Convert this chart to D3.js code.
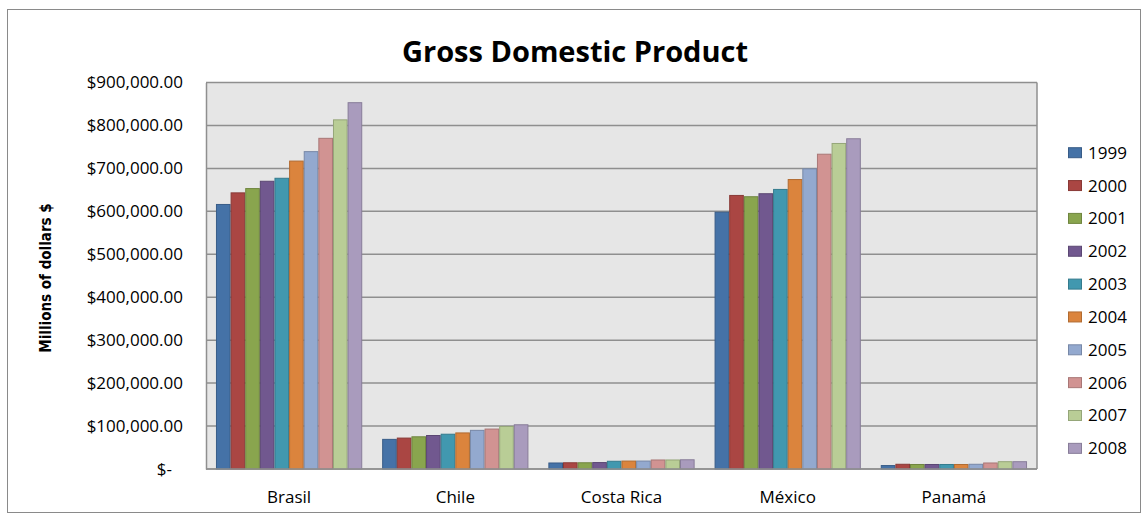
<!DOCTYPE html>
<html>
<head>
<meta charset="utf-8">
<title>Gross Domestic Product</title>
<script src="https://cdn.jsdelivr.net/npm/d3@7"></script>
<style>
  body { margin: 0; background: #ffffff; }
  svg text { font-family: "Open Sans", sans-serif; fill: #000; }
</style>
</head>
<body>
<div id="chart"></div>
<script>
// GDP by country, millions of dollars
var countries = ["Brasil", "Chile", "Costa Rica", "México", "Panamá"];
var years = ["1999", "2000", "2001", "2002", "2003", "2004", "2005", "2006", "2007", "2008"];

var brasil = [616000, 643000, 653000, 670000, 677000, 717000, 739000, 770000, 813000, 853000];
var chile = [69000, 72000, 75000, 78000, 81000, 84000, 90000, 93000, 99000, 103000];
var costaRica = [14000, 14500, 14500, 15000, 18000, 18500, 18500, 21000, 21000, 21500];
var mexico = [598000, 637000, 634000, 641000, 651000, 674000, 699000, 733000, 758000, 769000];
var panama = [8000, 11000, 10500, 10500, 10500, 10500, 11000, 14000, 17000, 17000];

var yTicks = [0, 100000, 200000, 300000, 400000, 500000, 600000, 700000, 800000, 900000];

var colors = ["#4572a7", "#aa4643", "#89a54e", "#71588f", "#4198af",
              "#db843d", "#93a9cf", "#d19392", "#b9cd96", "#a99bbd"];

var seriesByCountry = [brasil, chile, costaRica, mexico, panama];

var width = 1148;
var height = 522;
var plot = { left: 206, right: 1037, top: 82.5, bottom: 469 };

var svg = d3
  .select("#chart")
  .append("svg")
  .attr("width", width)
  .attr("height", height);

// outer chart frame
svg
  .append("rect")
  .attr("x", 7.5)
  .attr("y", 9.5)
  .attr("width", 1133)
  .attr("height", 503)
  .attr("fill", "#fff")
  .attr("stroke", "#8a8a8a")
  .attr("stroke-width", 1);

var x0 = d3
  .scaleBand()
  .domain(countries)
  .range([plot.left, plot.right])
  .paddingInner(0.12)
  .paddingOuter(0.06);

var x1 = d3
  .scaleBand()
  .domain(years)
  .range([0, x0.bandwidth()]);

var y = d3
  .scaleLinear()
  .domain([0, 900000])
  .range([plot.bottom, plot.top]);

var color = d3.scaleOrdinal().domain(years).range(colors);

// plot background
svg
  .append("rect")
  .attr("x", plot.left)
  .attr("y", plot.top)
  .attr("width", plot.right - plot.left)
  .attr("height", plot.bottom - plot.top)
  .attr("fill", "#e6e6e6");

// horizontal gridlines
svg
  .append("g")
  .selectAll("line")
  .data(yTicks)
  .enter()
  .append("line")
  .attr("x1", plot.left)
  .attr("x2", plot.right)
  .attr("y1", function(d) { return y(d); })
  .attr("y2", function(d) { return y(d); })
  .attr("stroke", "#8f8f8f")
  .attr("stroke-width", 1.5);

// right edge of the plot area
svg
  .append("line")
  .attr("x1", plot.right)
  .attr("x2", plot.right)
  .attr("y1", plot.top)
  .attr("y2", plot.bottom)
  .attr("stroke", "#8f8f8f")
  .attr("stroke-width", 1.5);

// bars, one group per country
var groups = svg
  .append("g")
  .selectAll("g")
  .data(countries)
  .enter()
  .append("g")
  .attr("transform", function(d) { return "translate(" + x0(d) + ",0)"; });

groups
  .selectAll("rect")
  .data(function(d, i) {
    return seriesByCountry[i].map(function(v, j) {
      return { year: years[j], value: v };
    });
  })
  .enter()
  .append("rect")
  .attr("x", function(d) { return x1(d.year) + 0.5; })
  .attr("y", function(d) { return y(d.value); })
  .attr("width", x1.bandwidth() - 1)
  .attr("height", function(d) { return plot.bottom - y(d.value); })
  .attr("fill", function(d) { return color(d.year); })
  .attr("stroke", function(d) { return d3.color(color(d.year)).darker(0.6); })
  .attr("stroke-width", 1);

// y axis with accounting style labels
var money = d3.format("$,.2f");
var yAxis = d3
  .axisLeft(y)
  .tickValues(yTicks)
  .tickSize(0)
  .tickPadding(23)
  .tickFormat(function(d) { return d === 0 ? "$-" : money(d); });

var gy = svg
  .append("g")
  .attr("transform", "translate(" + plot.left + ",0)")
  .call(yAxis);
gy.select(".domain").attr("stroke", "#8f8f8f").attr("stroke-width", 1.5);
gy.selectAll("text")
  .attr("font-size", 17)
  .attr("dx", function(d) { return d === 0 ? -11 : 0; });

// x axis
var xAxis = d3.axisBottom(x0).tickSize(0).tickPadding(22);
var gx = svg
  .append("g")
  .attr("transform", "translate(0," + plot.bottom + ")")
  .call(xAxis);
gx.select(".domain")
  .attr("d", "M" + plot.left + ",0H" + plot.right)
  .attr("stroke", "#8f8f8f")
  .attr("stroke-width", 1.5);
gx.selectAll("text").attr("font-size", 17);

// title
svg
  .append("text")
  .attr("x", 575)
  .attr("y", 62)
  .attr("text-anchor", "middle")
  .attr("font-size", 29)
  .attr("font-weight", "bold")
  .text("Gross Domestic Product");

// y axis title
svg
  .append("text")
  .attr("transform", "translate(51,278) rotate(-90)")
  .attr("text-anchor", "middle")
  .attr("font-size", 15)
  .attr("font-weight", "bold")
  .style("font-family", "'Liberation Sans Narrow', 'DejaVu Sans Condensed', sans-serif")
  .text("Millions of dollars $");

// legend
var legend = svg
  .append("g")
  .selectAll("g")
  .data(years)
  .enter()
  .append("g")
  .attr("transform", function(d, i) {
    return "translate(1068," + (152.7 + i * 32.85) + ")";
  });

legend
  .append("rect")
  .attr("x", 0.5)
  .attr("y", -5)
  .attr("width", 13)
  .attr("height", 10)
  .attr("fill", function(d) { return color(d); })
  .attr("stroke", function(d) { return d3.color(color(d)).darker(0.6); });

legend
  .append("text")
  .attr("x", 20)
  .attr("dy", "0.35em")
  .attr("font-size", 17)
  .text(function(d) { return d; });
</script>
</body>
</html>
